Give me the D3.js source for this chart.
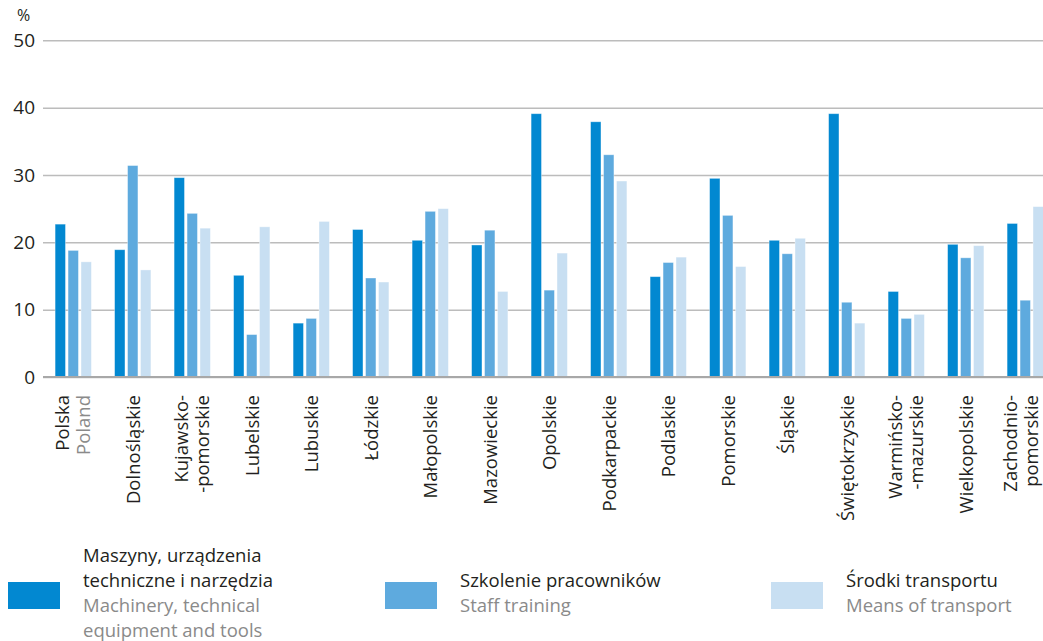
<!DOCTYPE html>
<html><head><meta charset="utf-8">
<script src="https://cdn.jsdelivr.net/npm/d3@7"></script>
<style>
html,body{margin:0;padding:0;background:#fff;}
svg{display:block;font-family:"Open Sans",sans-serif;}
</style></head>
<body><svg id="c" width="1043" height="641"></svg>
<script>
const categories = [
  ["Polska","Poland"], ["Dolnośląskie"], ["Kujawsko-","-pomorskie"], ["Lubelskie"], ["Lubuskie"],
  ["Łódzkie"], ["Małopolskie"], ["Mazowieckie"], ["Opolskie"], ["Podkarpackie"], ["Podlaskie"],
  ["Pomorskie"], ["Śląskie"], ["Świętokrzyskie"], ["Warmińsko-","-mazurskie"], ["Wielkopolskie"],
  ["Zachodnio-","pomorskie"]
];
const machinery = [22.7,18.9,29.6,15.1,8.0,21.9,20.3,19.6,39.1,37.9,14.9,29.5,20.3,39.1,12.7,19.7,22.8];
const training  = [18.8,31.4,24.3,6.3,8.7,14.7,24.6,21.8,12.9,33.0,17.0,24.0,18.3,11.1,8.7,17.7,11.4];
const transport = [17.1,15.9,22.1,22.3,23.1,14.1,25.0,12.7,18.4,29.1,17.8,16.4,20.6,8.0,9.3,19.5,25.3];
const yTicks = [0,10,20,30,40,50];
const seriesNames = [
  {pl:["Maszyny, urządzenia","techniczne i narzędzia"], en:["Machinery, technical","equipment and tools"]},
  {pl:["Szkolenie pracowników"], en:["Staff training"]},
  {pl:["Środki transportu"], en:["Means of transport"]}
];
const colors = ["#0288d1","#5eaade","#c8dff2"];
const series = [machinery, training, transport];

const W = 1043;
const svg = d3.select("#c");
const keys = categories.map(c => c.join(" "));
const x0 = d3.scaleBand().domain(keys).range([43.5,1055]).paddingInner(0.39).paddingOuter(0.195);
const x1 = d3.scaleBand().domain([0,1,2]).range([0,x0.bandwidth()]).paddingInner(0.2);
const y = d3.scaleLinear().domain([0,50]).range([377,40.3]);

// grid
const gAxis = svg.append("g").attr("transform","translate(43,0)");
const ax = d3.axisLeft(y).tickValues(yTicks).tickSize(-(W-43)).tickPadding(8);
gAxis.call(ax);
gAxis.select(".domain").remove();
gAxis.selectAll(".tick line").attr("stroke","#bcbcbc").attr("stroke-width",1.5);
gAxis.selectAll(".tick text").attr("fill","#231f20").attr("font-size",19).attr("font-family","Open Sans");
svg.append("text").attr("x",23.5).attr("y",21).attr("text-anchor","middle").attr("font-size",16).attr("fill","#231f20").text("%");

// bars
const groups = svg.append("g").selectAll("g").data(keys).join("g")
  .attr("transform", k => `translate(${x0(k)},0)`);
groups.selectAll("rect").data((k,i) => series.map((s,j) => ({j, v:s[i]}))).join("rect")
  .attr("x", d => x1(d.j)).attr("width", x1.bandwidth())
  .attr("y", d => y(d.v)).attr("height", d => y(0)-y(d.v))
  .attr("fill", d => colors[d.j])
  .attr("stroke","#ffffff").attr("stroke-opacity",0.45).attr("stroke-width",0.8);

// baseline
svg.append("line").attr("x1",43).attr("x2",W).attr("y1",y(0)).attr("y2",y(0)).attr("stroke","#a8a8a8").attr("stroke-width",1.8);

// x labels (two-line labels kept inside the page)
const labelX = (c,i) => {
  const cx = x0(keys[i]) + x0.bandwidth()/2;
  return c.length === 2 ? Math.min(cx, W - 22) : cx;
};
const xl = svg.append("g").selectAll("text").data(categories).join("text")
  .attr("transform",(c,i) => `translate(${labelX(c,i)},395) rotate(-90)`)
  .attr("text-anchor","end").attr("font-size",18.5);
xl.each(function(c,i){
  const t = d3.select(this);
  if (c.length === 1) {
    t.append("tspan").attr("x",0).attr("y",6.8).attr("fill","#231f20").text(c[0]);
  } else {
    c.forEach((s,k) => t.append("tspan").attr("x",0).attr("y",-4.5 + k*21.5)
      .attr("fill", (i===0 && k===1) ? "#8a8a8a" : "#231f20").text(s));
  }
});

// legend
const legX = [8, 385, 771];
const leg = svg.append("g").selectAll("g").data(seriesNames).join("g")
  .attr("transform",(d,i)=>`translate(${legX[i]},0)`);
leg.append("rect").attr("x",0).attr("y",582).attr("width",52).attr("height",27).attr("fill",(d,i)=>colors[i]);
leg.each(function(d){
  const g = d3.select(this);
  const lines = d.pl.map(s=>({s,c:"#231f20"})).concat(d.en.map(s=>({s,c:"#8a8a8a"})));
  const start = d.pl.length === 2 ? 561.5 : 586.8;
  lines.forEach((l,k) => g.append("text").attr("x",75).attr("y",start + k*25.2)
    .attr("font-size",18.5).attr("fill",l.c).text(l.s));
});
</script></body></html>
